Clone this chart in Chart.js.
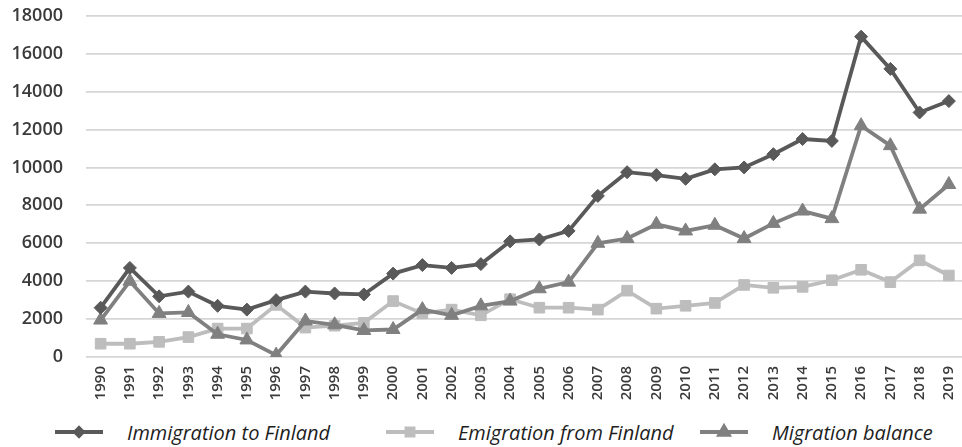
<!DOCTYPE html>
<html>
<head>
<meta charset="utf-8">
<script src="https://cdn.jsdelivr.net/npm/chart.js@4/dist/chart.umd.min.js"></script>
<style>
  html, body { margin: 0; padding: 0; background: #fff; }
  #wrap { position: relative; width: 962px; height: 447px; overflow: hidden; }
  #chart-box { position: absolute; left: 0; top: -18px; width: 976px; height: 430px; }
  .legend-item { position: absolute; top: 420px; height: 24px; display: flex; align-items: center; }
  .legend-item canvas { display: block; }
  .legend-item span {
    font-family: "Open Sans", sans-serif; font-style: italic; font-size: 20px;
    color: #1e1e1e; margin-left: 24px; white-space: nowrap;
  }
</style>
</head>
<body>
<div id="wrap">
  <div id="chart-box"><canvas id="chart"></canvas></div>
  <div class="legend-item" style="left:55px"><canvas id="lg0" width="48" height="24"></canvas><span>Immigration to Finland</span></div>
  <div class="legend-item" style="left:386px"><canvas id="lg1" width="48" height="24"></canvas><span>Emigration from Finland</span></div>
  <div class="legend-item" style="left:700px"><canvas id="lg2" width="48" height="24"></canvas><span>Migration balance</span></div>
</div>
<script>
const years = ['1990', '1991', '1992', '1993', '1994', '1995', '1996', '1997', '1998', '1999',
  '2000', '2001', '2002', '2003', '2004', '2005', '2006', '2007', '2008', '2009',
  '2010', '2011', '2012', '2013', '2014', '2015', '2016', '2017', '2018', '2019'];

const immigration = [2600, 4700, 3200, 3450, 2700, 2500, 3000, 3450, 3350, 3300,
  4400, 4850, 4700, 4900, 6100, 6200, 6650, 8500, 9750, 9600,
  9400, 9900, 10000, 10700, 11500, 11400, 16900, 15200, 12900, 13500];

const emigration = [700, 700, 800, 1050, 1500, 1500, 2750, 1550, 1650, 1800,
  2950, 2300, 2500, 2200, 3050, 2600, 2600, 2500, 3500, 2550,
  2700, 2850, 3800, 3650, 3700, 4050, 4600, 3950, 5100, 4300];

const balance = [1950, 4000, 2300, 2350, 1200, 900, 100, 1900, 1700, 1400,
  1450, 2500, 2200, 2700, 2950, 3600, 3950, 6000, 6250, 7000,
  6650, 6950, 6250, 7050, 7700, 7300, 12200, 11150, 7800, 9100];

const yTicks = [0, 2000, 4000, 6000, 8000, 10000, 12000, 14000, 16000, 18000];

const seriesNames = ['Immigration to Finland', 'Emigration from Finland', 'Migration balance'];
const seriesColors = ['#595959', '#bdbdbd', '#808080'];
const seriesMarkers = ['rectRot', 'rect', 'triangle'];
const markerSizes = [6.5, 7.5, 8];

const tickColor = '#3a3a3a';

function makeDataset(i, values) {
  return {
    label: seriesNames[i],
    data: values,
    borderColor: seriesColors[i],
    backgroundColor: seriesColors[i],
    borderWidth: 3.8,
    pointStyle: seriesMarkers[i],
    pointRadius: markerSizes[i],
    pointBorderWidth: 1,
    pointBackgroundColor: seriesColors[i],
    pointBorderColor: seriesColors[i],
    tension: 0,
    fill: false,
  };
}

new Chart(document.getElementById('chart'), {
  type: 'line',
  data: {
    labels: years,
    datasets: [
      makeDataset(0, immigration),
      makeDataset(2, balance),
      makeDataset(1, emigration),
    ],
  },
  options: {
    responsive: true,
    maintainAspectRatio: false,
    animation: false,
    layout: {padding: {top: 6, right: 0, bottom: 0, left: 0}},
    plugins: {
      legend: {display: false},
      title: {display: false},
      tooltip: {enabled: false},
    },
    scales: {
      x: {
        offset: true,
        grid: {display: false, drawTicks: false},
        border: {display: false},
        afterFit: (scale) => { scale.height = 55; },
        ticks: {
          autoSkip: false,
          minRotation: 90,
          maxRotation: 90,
          padding: 9,
          color: tickColor,
          font: {family: 'Open Sans', size: 15, weight: '600'},
        },
      },
      y: {
        min: 0,
        max: 18000,
        afterBuildTicks: (scale) => {
          scale.ticks = yTicks.map((v) => ({value: v}));
        },
        afterFit: (scale) => { scale.width = 86; },
        grid: {color: '#d6d6d6', lineWidth: 1.8, drawTicks: false},
        border: {display: false},
        ticks: {
          padding: 23,
          color: tickColor,
          font: {family: 'Open Sans', size: 18, weight: '600'},
          callback: (v) => String(v),
        },
      },
    },
  },
});

// legend samples: line with marker in the middle
function drawSample(id, i) {
  const ctx = document.getElementById(id).getContext('2d');
  ctx.strokeStyle = seriesColors[i];
  ctx.fillStyle = seriesColors[i];
  ctx.lineWidth = 3.8;
  ctx.beginPath();
  ctx.moveTo(0, 12);
  ctx.lineTo(48, 12);
  ctx.stroke();
  Chart.helpers.drawPoint(ctx, {pointStyle: seriesMarkers[i], radius: markerSizes[i] - 2.5, rotation: 0, borderWidth: 1}, 24, 12);
  ctx.fill();
}
drawSample('lg0', 0);
drawSample('lg1', 1);
drawSample('lg2', 2);
</script>
</body>
</html>
